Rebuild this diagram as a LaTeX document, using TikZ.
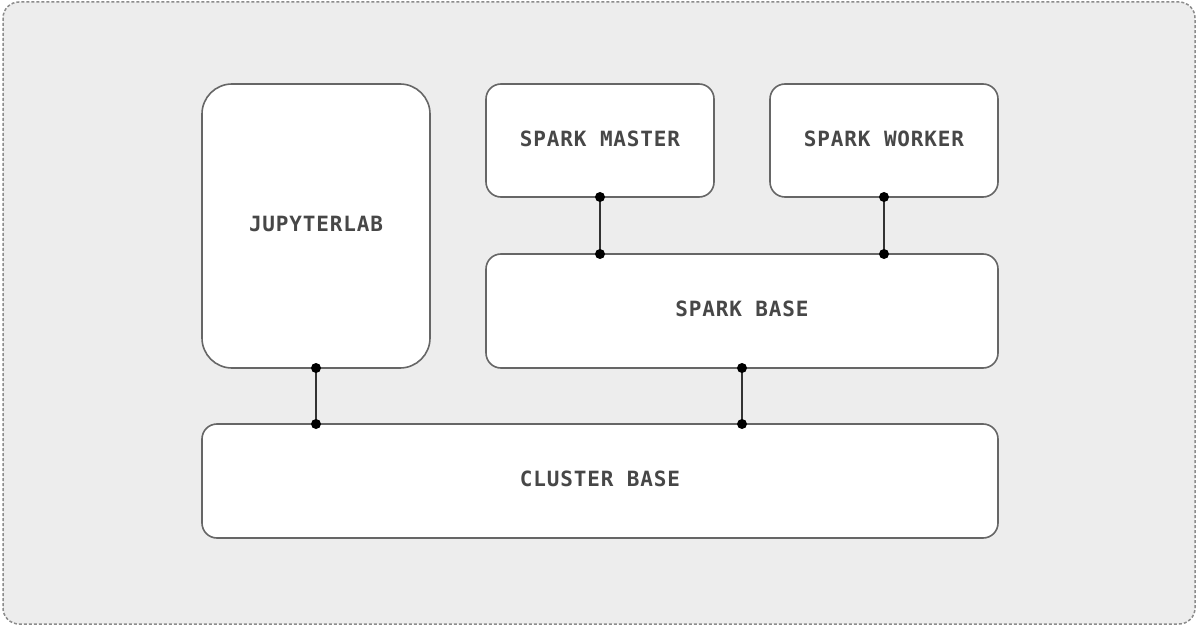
\documentclass[tikz,border=0pt]{standalone}
\usepackage{fontspec}
\setmonofont[LetterSpace=4]{DejaVu Sans Mono}
\begin{document}
\begin{tikzpicture}[x=1pt,y=-1pt,
  box/.style={draw=black!60,line width=1.6pt,fill=white,rounded corners=15pt},
  lbl/.style={font=\ttfamily\bfseries\fontsize{21}{24}\selectfont,text=black!72},
  link/.style={draw=black!80,line width=1.8pt},
  dot/.style={circle,fill=black,inner sep=0pt,minimum size=10pt}]
\useasboundingbox (0,0) rectangle (1198,628);
\draw[draw=black!45,dashed,dash pattern=on 3pt off 2pt,line width=1.5pt,fill=black!7,rounded corners=16pt] (3,2) rectangle (1195,624);
\draw[box,rounded corners=30pt] (202,84) rectangle (430,368);
\draw[box] (486,84) rectangle (714,197);
\draw[box] (770,84) rectangle (998,197);
\draw[box] (486,254) rectangle (998,368);
\draw[box] (202,424) rectangle (998,538);
\node[lbl] (jl) at (316,224) {JUPYTERLAB};
\node[lbl] (sm) at (600,139) {SPARK MASTER};
\node[lbl] (sw) at (884,139) {SPARK WORKER};
\node[lbl] (sb) at (742,309) {SPARK BASE};
\node[lbl] (cb) at (600,479) {CLUSTER BASE};
\coordinate (a1) at (316,368); \coordinate (a2) at (316,424);
\coordinate (b1) at (742,368); \coordinate (b2) at (742,424);
\coordinate (c1) at (600,197); \coordinate (c2) at (600,254);
\coordinate (d1) at (884,197); \coordinate (d2) at (884,254);
\foreach \p/\q in {a1/a2,b1/b2,c1/c2,d1/d2}{
  \draw[link] (\p) -- (\q);
  \node[dot] at (\p) {};
  \node[dot] at (\q) {};
}
\end{tikzpicture}
\end{document}
